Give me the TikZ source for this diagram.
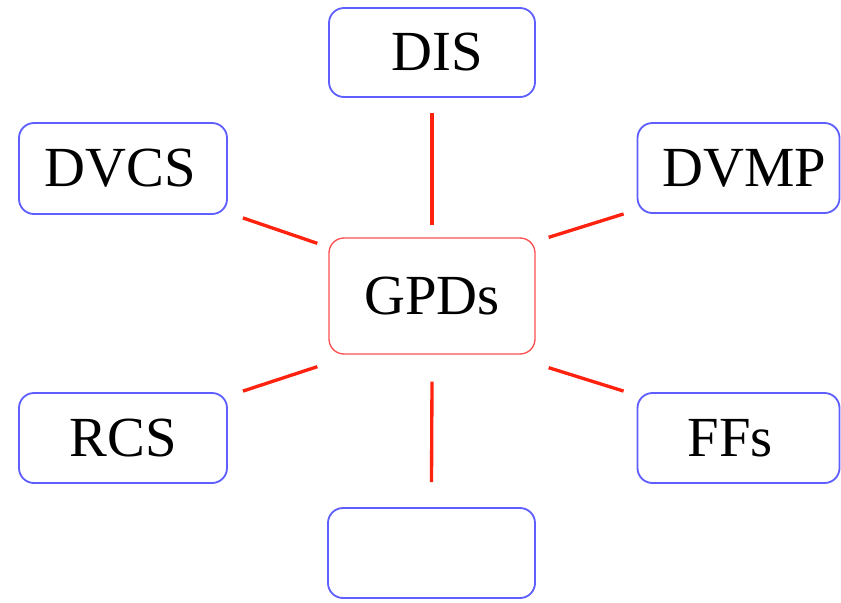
\documentclass[tikz,border=0pt]{standalone}
\usepackage{fontspec}
\setmainfont{Liberation Serif}
\definecolor{boxblue}{RGB}{95,95,255}
\definecolor{boxred}{RGB}{255,80,80}
\definecolor{linkred}{RGB}{255,35,15}
\begin{document}
\begin{tikzpicture}[x=0.3pt,y=-0.3pt,
  proc/.style={draw=boxblue,line width=0.55pt,rounded corners=4.5pt,inner sep=0pt,
    font=\fontsize{17}{20}\selectfont,text=black},
  core/.style={draw=boxred,line width=0.4pt,rounded corners=4.5pt,inner sep=0pt,
    font=\fontsize{17}{20}\selectfont,text=black,minimum width=61.8pt,minimum height=34.8pt},
  link/.style={draw=linkred,line width=1pt}]
\useasboundingbox (0,0) rectangle (841,602);
\node[proc,minimum width=61.8pt,minimum height=26.7pt] (dis) at (432,52.5) {\hspace*{3pt}DIS};
\node[proc,minimum width=62.4pt,minimum height=27.3pt] (dvcs) at (123,168.5) {DVCS\hspace*{1.8pt}};
\node[proc,minimum width=60.6pt,minimum height=27pt] (dvmp) at (738.5,168) {\hspace*{3.6pt}DVMP};
\node[core] (gpds) at (432,296) {GPDs};
\node[proc,minimum width=62.4pt,minimum height=27pt] (rcs) at (123,438) {RCS};
\node[proc,minimum width=60.6pt,minimum height=27pt] (ffs) at (738.5,438) {FFs\hspace*{4.8pt}};
\node[proc,minimum width=62.1pt,minimum height=27pt] (bot) at (431.5,553) {};
\draw[link] ([shift={(0,15)}]dis.south) -- ([shift={(0,-12)}]gpds.north);
\draw[link] ([shift={(0,27)}]gpds.south) -- ([shift={(0,-25)}]bot.north);
\draw[link] ([shift={(15,3)}]dvcs.south east) -- ([shift={(-11,6)}]gpds.north west);
\draw[link] ([shift={(13,0)}]gpds.north east) -- ([shift={(-13,0)}]dvmp.south west);
\draw[link] ([shift={(15,-1)}]rcs.north east) -- ([shift={(-11,12)}]gpds.south west);
\draw[link] ([shift={(13,13)}]gpds.south east) -- ([shift={(-13,-1)}]ffs.north west);
\end{tikzpicture}
\end{document}
